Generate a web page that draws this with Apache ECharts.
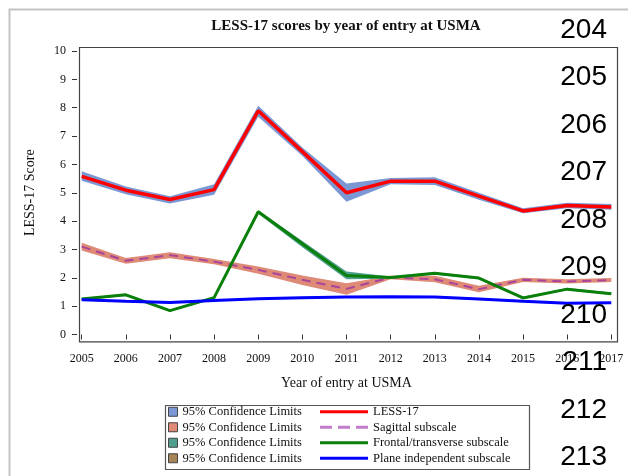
<!DOCTYPE html>
<html>
<head>
<meta charset="utf-8">
<script src="https://cdn.jsdelivr.net/npm/echarts@6/dist/echarts.min.js"></script>
<style>html,body{margin:0;padding:0;background:#fff}#c{width:628px;height:476px}</style>
</head>
<body>
<div id="c"></div>
<script>
// ---- data ----
const years = ['2005','2006','2007','2008','2009','2010','2011','2012','2013','2014','2015','2016','2017'];
const yTicks = [0,1,2,3,4,5,6,7,8,9,10];

const less17   = [5.58,5.09,4.76,5.11,7.89,6.45,5.00,5.41,5.41,4.88,4.36,4.55,4.50];
const less17Lo = [5.42,4.95,4.62,4.93,7.68,6.30,4.68,5.30,5.27,4.75,4.28,4.45,4.40];
const less17Hi = [5.76,5.22,4.88,5.30,8.07,6.60,5.33,5.52,5.55,5.00,4.45,4.65,4.60];

const sagittal   = [3.10,2.60,2.80,2.57,2.28,1.93,1.61,2.01,1.95,1.60,1.93,1.87,1.92];
const sagittalLo = [2.96,2.50,2.69,2.48,2.14,1.75,1.40,1.95,1.84,1.49,1.85,1.80,1.85];
const sagittalHi = [3.24,2.70,2.90,2.66,2.40,2.08,1.81,2.07,2.07,1.72,2.00,1.95,1.99];

const frontal   = [1.25,1.40,0.84,1.30,4.33,3.20,2.08,2.01,2.16,1.99,1.29,1.60,1.44];
const frontalLo = [1.21,1.36,0.80,1.26,4.26,3.08,1.95,1.97,2.12,1.95,1.25,1.56,1.40];
const frontalHi = [1.29,1.44,0.88,1.34,4.38,3.30,2.22,2.05,2.20,2.03,1.33,1.64,1.48];

const plane   = [1.23,1.17,1.13,1.20,1.26,1.30,1.32,1.33,1.32,1.25,1.17,1.10,1.12];
const planeLo = [1.20,1.14,1.10,1.17,1.23,1.27,1.29,1.30,1.29,1.22,1.14,1.07,1.09];
const planeHi = [1.26,1.20,1.16,1.23,1.29,1.33,1.35,1.36,1.35,1.28,1.20,1.13,1.15];

const lineNumbers = ['204','205','206','207','208','209','210','211','212','213'];

// ---- build ----
const SERIF = '"Liberation Serif", "Times New Roman", serif';
const chart = echarts.init(document.getElementById('c'), null, {renderer: 'canvas'});

function band(id, lo, hi, color) {
  return [
    {name: id + '_base', type: 'line', stack: id, data: lo, symbol: 'none', silent: true,
     lineStyle: {width: 0, opacity: 0}, itemStyle: {color: color}, z: 1},
    {name: id, type: 'line', stack: id, data: hi.map((v, i) => +(v - lo[i]).toFixed(4)), symbol: 'none', silent: true,
     lineStyle: {width: 0, opacity: 0}, areaStyle: {color: color, opacity: 1}, itemStyle: {color: color}, z: 1}
  ];
}

const bandColors = {ciA: '#7b98d4', ciB: '#df8a76', ciC: '#4f9f8f', ciD: '#a8845a'};
const series = [].concat(
  band('ciA', less17Lo, less17Hi, bandColors.ciA),
  band('ciB', sagittalLo, sagittalHi, bandColors.ciB),
  band('ciC', frontalLo, frontalHi, bandColors.ciC),
  band('ciD', planeLo, planeHi, bandColors.ciD),
  [
    {name: 'LESS-17', type: 'line', data: less17, symbol: 'none', z: 3,
     lineStyle: {color: '#ff0000', width: 3.5}, itemStyle: {color: '#ff0000'}},
    {name: 'Sagittal subscale', type: 'line', data: sagittal, symbol: 'none', z: 3,
     lineStyle: {color: '#a8449c', width: 2, type: [9, 6]}, itemStyle: {color: '#a8449c'}},
    {name: 'Frontal/transverse subscale', type: 'line', data: frontal, symbol: 'none', z: 3,
     lineStyle: {color: '#0a800a', width: 3}, itemStyle: {color: '#0a800a'}},
    {name: 'Plane independent subscale', type: 'line', data: plane, symbol: 'none', z: 3,
     lineStyle: {color: '#0000ff', width: 3}, itemStyle: {color: '#0000ff'}}
  ]
);

const lineNumTexts = lineNumbers.map((t, i) => ({
  type: 'text', right: 21, top: 16 + i * 47.5, z: 100,
  style: {text: t, font: '28px "Liberation Sans", Arial, sans-serif', fill: '#000'}
}));

const DASH_ICON = 'path://M0,0h12v3h-12z M18,0h12v3h-12z M36,0h12v3h-12z';

const option = {
  animation: false,
  backgroundColor: '#fff',
  title: {
    text: 'LESS-17 scores by year of entry at USMA',
    left: 346, top: 19, textAlign: 'center', padding: 0,
    textStyle: {fontFamily: SERIF, fontSize: 15, fontWeight: 'bold', color: '#111'}
  },
  grid: {left: 81.7, right: 16.7, top: 51, bottom: 141.5, containLabel: false},
  xAxis: {
    type: 'category', data: years, boundaryGap: false, offset: 4.8,
    axisLine: {show: false},
    axisTick: {show: true, length: 5, alignWithLabel: true, lineStyle: {color: '#333'}},
    axisLabel: {fontFamily: SERIF, fontSize: 12, color: '#111', margin: 14, interval: 0},
    splitLine: {show: false},
    name: 'Year of entry at USMA', nameLocation: 'middle', nameGap: 37,
    nameTextStyle: {fontFamily: SERIF, fontSize: 14, color: '#111', verticalAlign: 'top'}
  },
  yAxis: {
    type: 'value', min: yTicks[0], max: yTicks[yTicks.length - 1], interval: 1, offset: 4.7,
    axisLine: {show: false},
    axisTick: {show: true, length: 5, lineStyle: {color: '#333'}},
    axisLabel: {fontFamily: SERIF, fontSize: 12, color: '#111', margin: 11},
    splitLine: {show: false},
    name: 'LESS-17 Score', nameLocation: 'middle', nameGap: 40, nameRotate: 90,
    nameTextStyle: {fontFamily: SERIF, fontSize: 14, color: '#111'}
  },
  legend: [
    {
      data: ['ciA', 'ciB', 'ciC', 'ciD'], orient: 'vertical', left: 168, top: 404, padding: 0,
      itemWidth: 9, itemHeight: 9, itemGap: 0, icon: 'rect', selectedMode: false,
      formatter: () => '95% Confidence Limits',
      itemStyle: {borderColor: '#444', borderWidth: 1},
      textStyle: {fontFamily: SERIF, fontSize: 12.5, color: '#111', lineHeight: 15.5}
    },
    {
      data: [
        {name: 'LESS-17', icon: 'rect'},
        {name: 'Sagittal subscale', icon: DASH_ICON, itemStyle: {color: '#c27ccc'}},
        {name: 'Frontal/transverse subscale', icon: 'rect'},
        {name: 'Plane independent subscale', icon: 'rect'}
      ],
      orient: 'vertical', left: 320, top: 404, padding: 0,
      itemWidth: 48, itemHeight: 3, itemGap: 0, selectedMode: false,
      textStyle: {fontFamily: SERIF, fontSize: 12.5, color: '#111', lineHeight: 15.5}
    }
  ],
  graphic: [
    {type: 'rect', left: 7, top: 7, z: -1, silent: true,
     shape: {width: 700, height: 600}, style: {fill: null, stroke: '#c4c4c4', lineWidth: 2}},
    {type: 'rect', left: 77, top: 45, z: 50, silent: true,
     shape: {width: 538, height: 294.3}, style: {fill: null, stroke: '#444', lineWidth: 1.2}},
    {type: 'rect', left: 163, top: 403, z: 50, silent: true,
     shape: {width: 364, height: 64}, style: {fill: null, stroke: '#555', lineWidth: 1.2}}
  ].concat(lineNumTexts),
  series: series
};
chart.setOption(option);
</script>
</body>
</html>
